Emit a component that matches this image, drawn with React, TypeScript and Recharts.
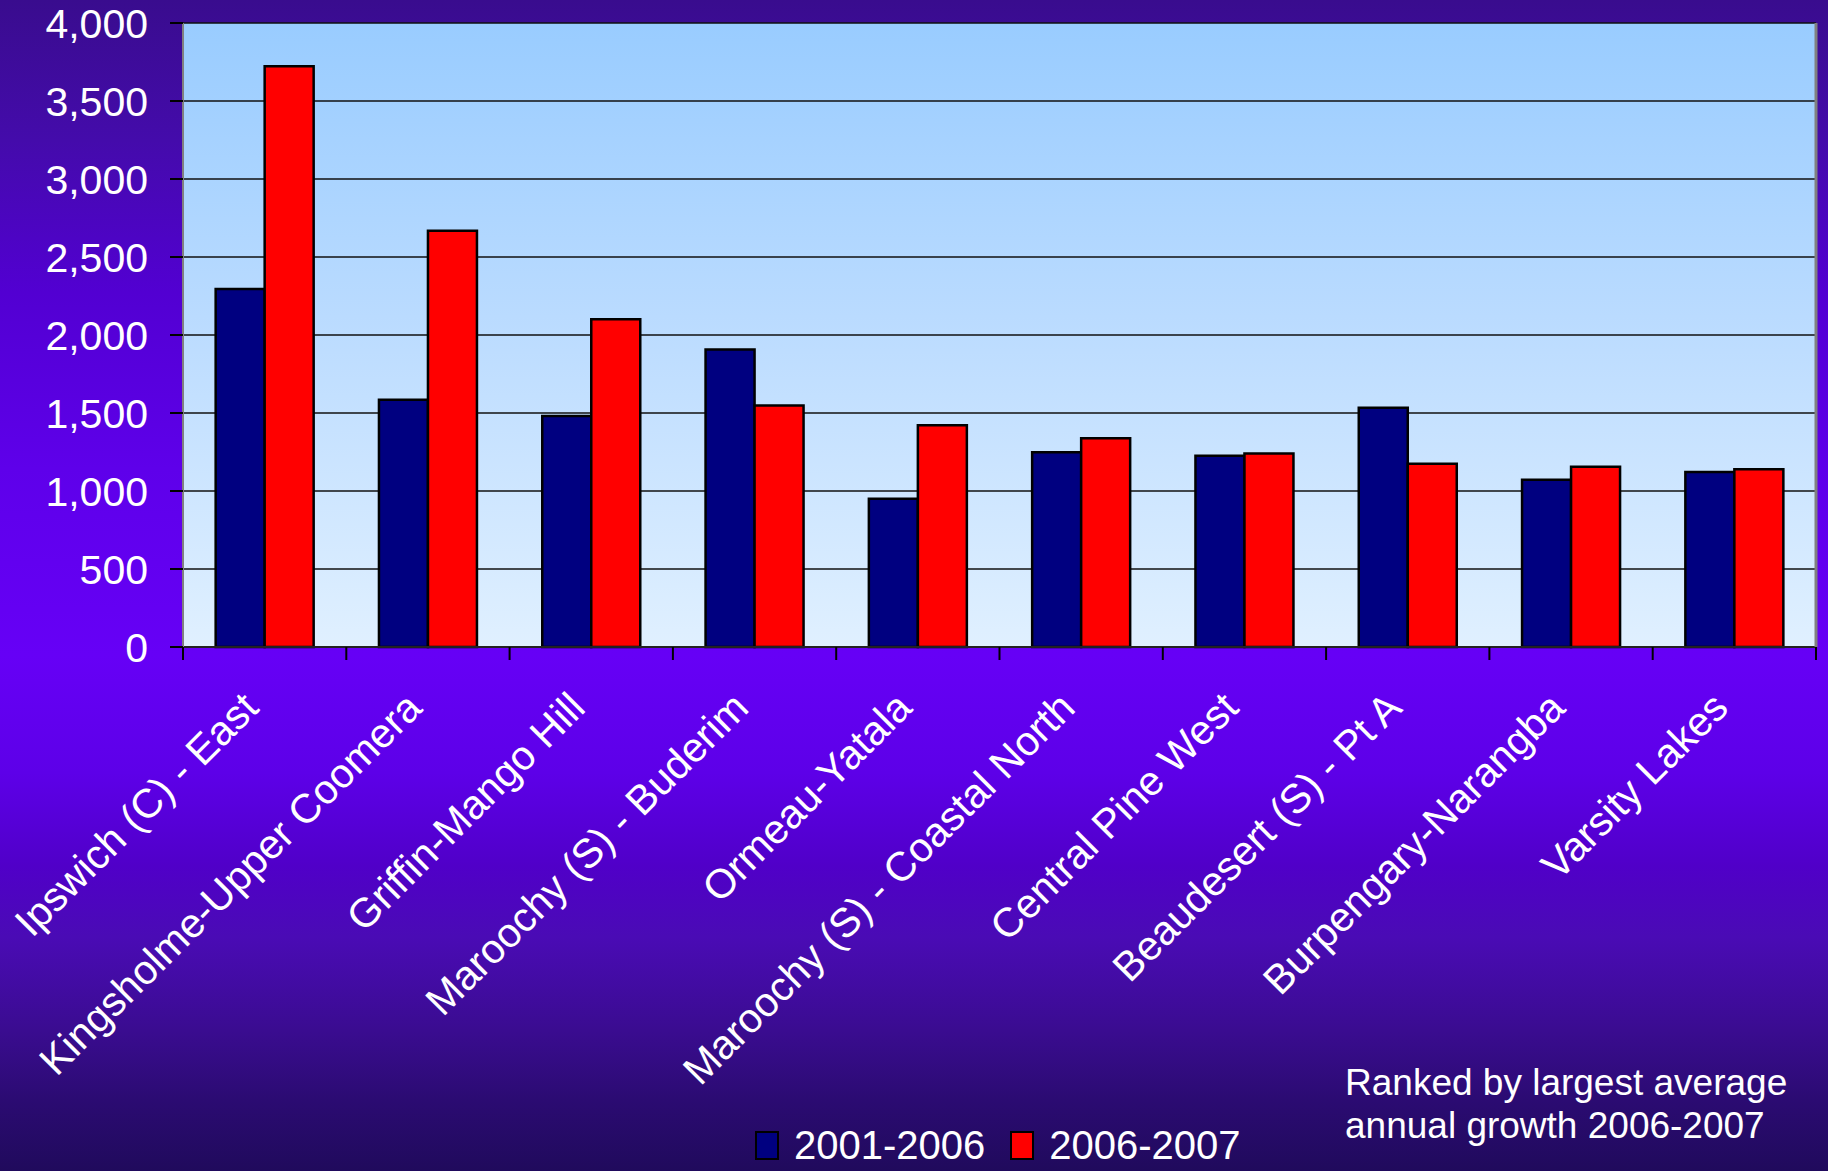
import { Bar, BarChart, CartesianGrid, Legend, XAxis, YAxis } from "recharts";

const AREAS = [
  "Ipswich (C) - East",
  "Kingsholme-Upper Coomera",
  "Griffin-Mango Hill",
  "Maroochy (S) - Buderim",
  "Ormeau-Yatala",
  "Maroochy (S) - Coastal North",
  "Central Pine West",
  "Beaudesert (S) - Pt A",
  "Burpengary-Narangba",
  "Varsity Lakes",
];
const GROWTH_2001_2006 = [2295, 1585, 1480, 1907, 950, 1249, 1226, 1533, 1072, 1122];
const GROWTH_2006_2007 = [3723, 2669, 2101, 1548, 1421, 1338, 1241, 1174, 1156, 1139];
const Y_TICKS = [0, 500, 1000, 1500, 2000, 2500, 3000, 3500, 4000];

const SERIES = [
  { key: "p1", name: "2001-2006", color: "#000080" },
  { key: "p2", name: "2006-2007", color: "#ff0000" },
];

const data = AREAS.map((area, i) => ({
  area,
  p1: GROWTH_2001_2006[i],
  p2: GROWTH_2006_2007[i],
}));

const W = 1828;
const H = 1171;
const MARGIN = { top: 23, right: 0, bottom: 0, left: 0 };
const Y_AXIS_W = 183;
const RIGHT_W = 12;
const LEGEND_H = 40;
const X_AXIS_H = H - MARGIN.top - 624 - LEGEND_H;
const PLOT_W = W - Y_AXIS_W - RIGHT_W;
const BAND = PLOT_W / AREAS.length;
const FONT = "'Liberation Sans', Arial, sans-serif";

function AreaTick({ x, y, payload, index }: any) {
  const left = x - BAND / 2;
  return (
    <g>
      <line x1={left} x2={left} y1={y} y2={y + 13} stroke="#000" strokeWidth={2} />
      {index === AREAS.length - 1 && (
        <line x1={x + BAND / 2} x2={x + BAND / 2} y1={y} y2={y + 13} stroke="#000" strokeWidth={2} />
      )}
      <text
        transform={`translate(${x - 4},${y + 63}) rotate(-45)`}
        textAnchor="end"
        fill="#fff"
        fontSize={41}
        fontFamily={FONT}
      >
        {payload.value}
      </text>
    </g>
  );
}

function LegendBox() {
  return (
    <div style={{ display: "flex", alignItems: "center", height: LEGEND_H, fontFamily: FONT }}>
      {SERIES.map((s, i) => (
        <div key={s.key} style={{ display: "flex", alignItems: "center", marginRight: i === 0 ? 25 : 0 }}>
          <span
            style={{
              display: "inline-block",
              width: 20,
              height: 25,
              background: s.color,
              border: "2px solid #000",
              marginRight: 15,
            }}
          />
          <span style={{ color: "#fff", fontSize: 40, lineHeight: "40px" }}>{s.name}</span>
        </div>
      ))}
    </div>
  );
}

export default function App() {
  return (
    <div
      style={{
        position: "absolute",
        left: 0,
        top: 0,
        width: W,
        height: H,
        fontFamily: FONT,
        background:
          "linear-gradient(to bottom, #390c8e 0%, #440bab 12%, #5200d2 25%, #5e00ea 40%, #6600f6 56%, #5d00e8 66%, #5000c8 74%, #4a0bb5 80%, #3a0c90 88%, #2b0b72 94%, #200a5c 100%)",
      }}
    >
      <BarChart width={W} height={H} data={data} margin={MARGIN} barGap={0} barCategoryGap="20%">
        <defs>
          <linearGradient id="plotBg" x1="0" y1="0" x2="0" y2="1">
            <stop offset="0%" stopColor="#99ccff" />
            <stop offset="50%" stopColor="#bcdcff" />
            <stop offset="100%" stopColor="#e0f0ff" />
          </linearGradient>
        </defs>
        <CartesianGrid vertical={false} stroke="#111" strokeWidth={1.5} fill="url(#plotBg)" fillOpacity={1} />
        <XAxis
          dataKey="area"
          height={X_AXIS_H}
          interval={0}
          tickSize={0}
          tickMargin={0}
          tickLine={false}
          axisLine={{ stroke: "#222", strokeWidth: 2 }}
          tick={<AreaTick />}
        />
        <XAxis xAxisId="top" dataKey="area" orientation="top" height={0} tick={false} tickLine={false} axisLine={{ stroke: "#808080", strokeWidth: 2 }} />
        <YAxis
          width={Y_AXIS_W}
          domain={[0, 4000]}
          ticks={Y_TICKS}
          interval={0}
          tickSize={13}
          tickMargin={22}
          tickLine={{ stroke: "#000", strokeWidth: 2 }}
          axisLine={{ stroke: "#808080", strokeWidth: 2 }}
          tick={{ fill: "#fff", fontSize: 41, fontFamily: FONT }}
          tickFormatter={(v: number) => v.toLocaleString("en-US")}
        />
        <YAxis
          yAxisId="right"
          orientation="right"
          width={RIGHT_W}
          domain={[0, 4000]}
          tick={false}
          tickLine={false}
          axisLine={{ stroke: "#808080", strokeWidth: 3 }}
        />
        {SERIES.map((s) => (
          <Bar key={s.key} dataKey={s.key} name={s.name} fill={s.color} stroke="#000" strokeWidth={2.5} isAnimationActive={false} />
        ))}
        <Legend
          verticalAlign="bottom"
          align="left"
          height={LEGEND_H}
          wrapperStyle={{ left: 755, bottom: 6 }}
          content={<LegendBox />}
        />
      </BarChart>
      <div
        style={{
          position: "absolute",
          left: 1345,
          top: 1061,
          color: "#fff",
          fontSize: 37,
          lineHeight: "43px",
        }}
      >
        Ranked by largest average
        <br />
        annual growth 2006-2007
      </div>
    </div>
  );
}
